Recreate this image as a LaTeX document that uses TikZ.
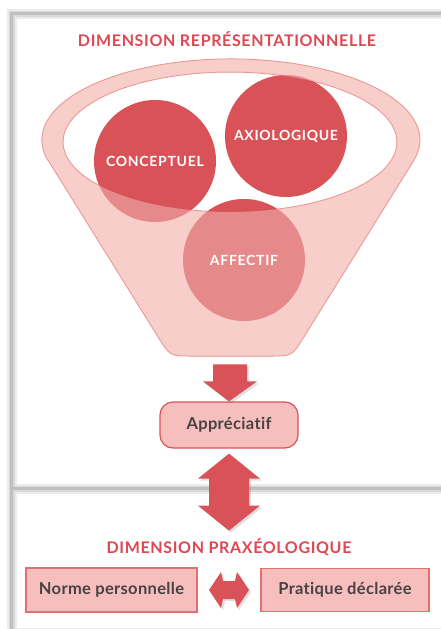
\documentclass[tikz,border=0pt]{standalone}
\usepackage{fontspec}
\setmainfont{Lato}
\usetikzlibrary{calc,shadows}
\definecolor{rouge}{RGB}{217,82,88}
\definecolor{rose}{RGB}{248,206,202}
\definecolor{roseline}{RGB}{233,140,136}
\definecolor{boxfill}{RGB}{247,190,190}
\definecolor{boxline}{RGB}{226,112,112}
\definecolor{titre}{RGB}{221,72,82}
\definecolor{texte}{RGB}{72,66,66}
\newcommand{\funnelpath}{(48,160) -- (158.4,337.3) .. controls (170,356) .. (192,356) -- (270,356) .. controls (292,356) .. (303.6,337.3) -- (414,160) arc[start angle=14.3, end angle=-194.3, x radius=189, y radius=81] -- cycle}
\tikzset{
	circ/.style={circle, fill=rouge, minimum size=122pt, inner sep=0pt},
	circtext/.style={text=white, font=\bfseries\fontsize{14}{14}\selectfont\addfontfeatures{LetterSpace=5}},
	titlenode/.style={text=titre, font=\bfseries\fontsize{16}{16}\selectfont\addfontfeatures{LetterSpace=4}},
	pbox/.style={draw=boxline, fill=boxfill, line width=1.2pt, text=texte, font=\bfseries\fontsize{16.5}{16.5}\selectfont\addfontfeatures{LetterSpace=2, Ligatures=NoCommon}},
	barrow/.style={fill=rouge, drop shadow={opacity=0.25, shadow xshift=2pt, shadow yshift=-2pt}}
}

\begin{document}
\begin{tikzpicture}[x=1pt, y=-1pt]
	\useasboundingbox[fill=white] (0,0) rectangle (441,629);
	\foreach \w/\c in {10/15, 6/30, 3/50} {
		\draw[line width=\w pt, gray!\c] (11.5,629) -- (11.5,13.5) -- (441,13.5);
		\draw[line width=\w pt, gray!\c] (11.5,488.5) -- (441,488.5);
	}
	\draw[gray!15] (15,628) -- (441,628);

	\node[titlenode] (rep) at (227,39) {DIMENSION REPRÉSENTATIONNELLE};

	\draw[fill=rose, draw=roseline, line width=1pt] \funnelpath;
	\draw[fill=white, draw=roseline, line width=1pt] (230,142) ellipse[x radius=167, y radius=70];
	\node[circ] (concept) at (155,161) {};
	\node[circ] (axio) at (286,136) {};
	\node[circ] (affect) at (244,260) {};
	\fill[rose, opacity=0.45, even odd rule] \funnelpath (230,142) ellipse[x radius=167, y radius=70];
	\node[circtext] at (concept) {CONCEPTUEL};
	\node[circtext] at (axio) {AXIOLOGIQUE};
	\node[circtext] at (affect) {AFFECTIF};

	\node[pbox, draw=rouge, rounded corners=13pt, minimum width=138pt, minimum height=46pt] (appr) at (229,425) {Appréciatif};
	\fill[barrow] (appr.north) -- ++(-26,-20) -- ++(10,0) -- ++(0,-17) -- ++(34,0) -- ++(0,17) -- ++(10,0) -- cycle;
	\coordinate (dtop) at ($(appr.south)+(0,5)$);
	\fill[barrow] (dtop) -- ++(-31,25) -- ++(11,0) -- ++(0,27) -- ++(-11,0) -- ++(31,25) -- ++(31,-25) -- ++(-11,0) -- ++(0,-27) -- ++(11,0) -- cycle;

	\node[titlenode] (praxeo) at (229,547) {DIMENSION PRAXÉOLOGIQUE};
	\node[pbox, minimum width=171pt, minimum height=44pt] (norme) at (111.5,590) {Norme personnelle};
	\node[pbox, minimum width=168pt, minimum height=43pt] (pratique) at (345,590) {Pratique déclarée};
	\coordinate (mid) at ($(norme.east)!0.5!(pratique.west)$);
	\fill[barrow] ($(mid)+(-20,0)$) -- ++(12,-18) -- ++(2,9) -- ++(12,0) -- ++(2,-9) -- ++(12,18) -- ++(-12,18) -- ++(-2,-9) -- ++(-12,0) -- ++(-2,9) -- cycle;
\end{tikzpicture}
\end{document}
